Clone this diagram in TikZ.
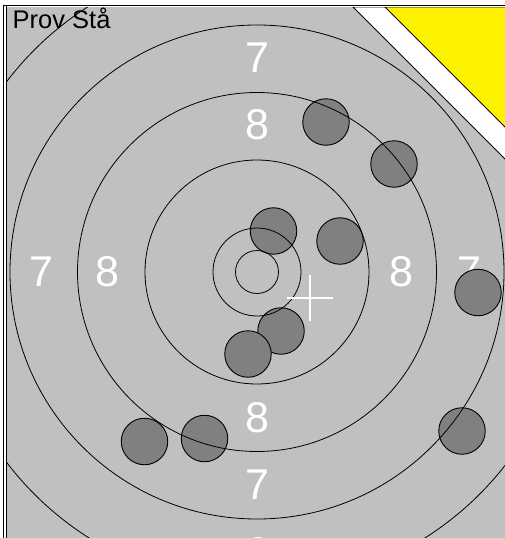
\documentclass[tikz,border=0pt]{standalone}
\usepackage{fontspec}
\setmainfont{Liberation Sans}
\definecolor{bggrey}{HTML}{C0C0C0}
\definecolor{shotgrey}{HTML}{808080}
\begin{document}
\begin{tikzpicture}[x=1pt,y=-1pt,
  ringline/.style={draw=black, line width=0.8pt},
  shot/.style={circle, draw=black, line width=0.9pt, fill=shotgrey, minimum size=46.5pt, inner sep=0pt},
  lbl/.style={text=white, font=\fontsize{43}{43}\selectfont, inner sep=0pt, anchor=center},
  crossline/.style={draw=white, line width=1.6pt}]
\useasboundingbox (0,0) rectangle (505,538);
\fill[white] (0,0) rectangle (505,538);
\coordinate (c) at (257,272);
\begin{scope}
\clip (7,7) rectangle (505,538);
\fill[bggrey] (7,7) rectangle (505,538);
% labels
\node[lbl] (t7) at (257,58) {7};
\node[lbl] (t8) at (257,125) {8};
\node[lbl] (b8) at (257,418) {8};
\node[lbl] (b7) at (257,485) {7};
\node[lbl] (b6) at (257,553) {6};
\node[lbl] (l7) at (41,272) {7};
\node[lbl] (l8) at (107,272) {8};
\node[lbl] (r8) at (401,272) {8};
\node[lbl] (r7) at (469,272) {7};
% shots
\node[shot] (s1) at (326,122) {};
\node[shot] (s2) at (394,164) {};
\node[shot] (s3) at (273.5,231) {};
\node[shot] (s4) at (340,241) {};
\node[shot] (s5) at (478,292.5) {};
\node[shot] (s6) at (281,331) {};
\node[shot] (s7) at (248,354) {};
\node[shot] (s8) at (144.5,441.5) {};
\node[shot] (s9) at (204.5,438.5) {};
\node[shot] (s10) at (462,431) {};
% rings
\foreach \r in {21.5,44,112,179.5,247,314.5}
  \draw[ringline] (c) circle[radius=\r pt];
% corner triangles
\filldraw[fill=white, draw=black, line width=0.8pt] (353,7) -- (510,7) -- (510,164) -- cycle;
\filldraw[fill=yellow, draw=black, line width=0.8pt] (385,7) -- (510,7) -- (510,132) -- cycle;
% cross
\coordinate (x) at (310,298);
\draw[crossline] ([xshift=-23pt]x) -- ([xshift=23pt]x);
\draw[crossline] ([yshift=-23pt]x) -- ([yshift=23pt]x);
\end{scope}
% title
\node[anchor=base west, inner sep=0pt, font=\fontsize{25.5}{25.5}\selectfont] (title) at (12.5,28.3) {Prov Stå};
% frame lines
\draw[black, line width=1pt] (3,5.5) -- (505,5.5);
\draw[black, line width=1pt] (3.5,5) -- (3.5,538);
\draw[black, line width=1pt] (6.5,5) -- (6.5,538);
\end{tikzpicture}
\end{document}
